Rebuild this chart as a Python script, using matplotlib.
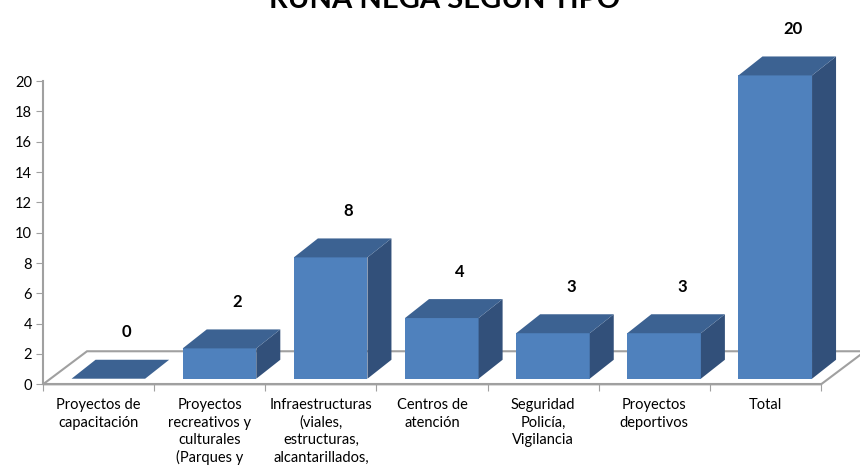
import matplotlib
matplotlib.use("Agg")
import matplotlib.pyplot as plt
from matplotlib.patches import Polygon

categorias = ["Proyectos de\ncapacitación",
              "Proyectos\nrecreativos y\nculturales\n(Parques y",
              "Infraestructuras\n(viales,\nestructuras,\nalcantarillados,",
              "Centros de\natención",
              "Seguridad\nPolicía,\nVigilancia",
              "Proyectos\ndeportivos",
              "Total"]
valores = [0, 2, 8, 4, 3, 3, 20]
yticks = list(range(0, 21, 2))

plt.rcParams['font.family'] = ['Lato', 'DejaVu Sans']

c_front = "#4F81BD"
c_top = "#3C6292"
c_side = "#32507A"
c_gris = "#A0A0A0"

fig = plt.figure(figsize=(8.6, 4.7), dpi=100)
ax = fig.add_axes([0.05, 0.1823, 0.9047, 0.6453])
n = len(valores)
ax.set_xlim(0, n)
ax.set_ylim(0, 20)

# piso 3D
fdx, fdy = 0.396, 2.18
ax.add_patch(Polygon([(0, 0), (n, 0), (n + fdx, fdy), (fdx, fdy)], closed=True,
                     facecolor="white", edgecolor=c_gris, lw=1.5, clip_on=False, zorder=1))

# barras 3D
base, ancho, ddx, ddy = 0.37, 0.662, 0.216, 1.25
for i, v in enumerate(valores):
    x0 = i + 0.257
    x1 = x0 + ancho
    top = base + v
    if v > 0:
        ax.add_patch(Polygon([(x0, base), (x1, base), (x1, top), (x0, top)],
                             facecolor=c_front, edgecolor="none", clip_on=False, zorder=2))
        ax.add_patch(Polygon([(x1, base), (x1 + ddx, base + ddy), (x1 + ddx, top + ddy), (x1, top)],
                             facecolor=c_side, edgecolor="none", clip_on=False, zorder=2))
    ax.add_patch(Polygon([(x0, top), (x1, top), (x1 + ddx, top + ddy), (x0 + ddx, top + ddy)],
                         facecolor=c_top, edgecolor="none", clip_on=False, zorder=2))
    ax.text(i + 0.75, top + ddy + 1.8, str(v), ha="center", va="center",
            fontsize=12, fontweight="bold", clip_on=False)

for s in ["top", "right"]:
    ax.spines[s].set_visible(False)
ax.spines["left"].set_color(c_gris)
ax.spines["bottom"].set_color(c_gris)
ax.spines["left"].set_linewidth(1.5)
ax.spines["bottom"].set_linewidth(1.5)
ax.spines["left"].set_bounds(0, 20)

ax.set_yticks(yticks)
ax.tick_params(axis="y", length=5, color=c_gris, labelsize=10.5, pad=3)
ax.set_xticks(range(n + 1))
ax.set_xticklabels([])
ax.set_xticks([i + 0.5 for i in range(n)], minor=True)
ax.set_xticklabels(categorias, minor=True, fontsize=10.5, linespacing=1.3, va="top")
ax.tick_params(axis="x", which="major", length=5, color=c_gris)
ax.tick_params(axis="x", which="minor", length=0, pad=10)

fig.text(0.517, 1 - 8.5 / 470, "RUNA NEGA SEGÚN TIPO", ha="center", va="baseline",
         fontsize=21, fontweight="bold")

fig.savefig("out.png", dpi=100)
